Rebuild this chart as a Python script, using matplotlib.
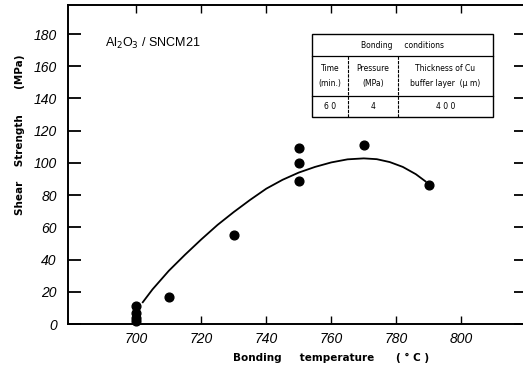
import matplotlib
matplotlib.use("Agg")
import matplotlib.pyplot as plt
from matplotlib.patches import Rectangle
from matplotlib.lines import Line2D

# Measured data points
temp_pts = [700, 700, 700, 700, 710, 730, 750, 750, 750, 770, 790]
shear_pts = [11, 7, 4, 2, 17, 55, 109, 100, 89, 111, 86]

# Fitted curve
curve_t = [702, 705, 710, 715, 720, 725, 730, 735, 740, 745, 750, 755, 760, 765,
           770, 774, 778, 782, 786, 789]
curve_s = [13.5, 21.5, 33, 43, 52.5, 61.5, 69.5, 77, 84, 89.5, 94, 97.5, 100.3, 102.2,
           102.8, 102.3, 100.5, 97.5, 93, 88.5]

xticks = [700, 720, 740, 760, 780, 800]
yticks = [0, 20, 40, 60, 80, 100, 120, 140, 160, 180]

W, H = 523, 369
fig = plt.figure(figsize=(W / 100, H / 100), dpi=100)
ax = fig.add_axes([68 / W, 1 - 324 / H, (526 - 68) / W, (324 - 5) / H])
ax.set_xlim(679, 819.9)
ax.set_ylim(0, 198)

ax.plot(curve_t, curve_s, color="black", lw=1.3, solid_joinstyle="round")
ax.plot(temp_pts, shear_pts, "o", color="black", ms=6.3, clip_on=False)

for s in ax.spines.values():
    s.set_linewidth(1.4)

ax.set_xticks(xticks)
ax.set_yticks(yticks)
tickfont = dict(fontsize=10, style="italic", family="Liberation Sans")
ax.set_xticklabels([str(t) for t in xticks], **tickfont)
ax.set_yticklabels([str(t) for t in yticks], **tickfont)
ax.tick_params(axis="y", which="both", direction="in", length=9, width=1.3,
               right=True, pad=8)
ax.tick_params(axis="x", which="both", direction="in", length=6, width=1.0,
               top=True, pad=6)
ax.tick_params(axis="y", right=True, labelright=False)

ax.text(690.5, 174, r"Al$_2$O$_3$ / SNCM21", fontsize=9, va="center", ha="left",
        family="Liberation Sans")

fig.text(331 / W, 1 - 358 / H, "Bonding     temperature      ( ° C )",
         fontsize=7.5, fontweight="bold", ha="center", va="center")
fig.text(20 / W, 1 - 135 / H, "Shear    Strength       (MPa)",
         fontsize=7.5, fontweight="bold", ha="center", va="center", rotation=90)

# Bonding conditions table
def fx(px):
    return px / W

def fy(py):
    return 1 - py / H

x0, x1, x2, x3 = 312, 348, 398, 493
y0, y1, y2, y3 = 34, 56, 96, 117
fig.patches.append(Rectangle((fx(x0), fy(y3)), fx(x3) - fx(x0), fy(y0) - fy(y3),
                             transform=fig.transFigure, fill=False, lw=1.0,
                             edgecolor="black"))
for yy in (y1, y2):
    fig.lines.append(Line2D([fx(x0), fx(x3)], [fy(yy), fy(yy)],
                            transform=fig.transFigure, color="black", lw=0.9))
for xx in (x1, x2):
    fig.lines.append(Line2D([fx(xx), fx(xx)], [fy(y1), fy(y3)],
                            transform=fig.transFigure, color="black", lw=0.8,
                            ls=(0, (3, 1))))

tf = dict(fontsize=5.5, ha="center", va="center", family="DejaVu Sans")
fig.text(fx((x0 + x3) / 2), fy((y0 + y1) / 2), "Bonding     conditions", **tf)
fig.text(fx((x0 + x1) / 2), fy((y1 + y2) / 2), "Time\n(min.)", linespacing=1.8, **tf)
fig.text(fx((x1 + x2) / 2), fy((y1 + y2) / 2), "Pressure\n(MPa)", linespacing=1.8, **tf)
fig.text(fx((x2 + x3) / 2), fy((y1 + y2) / 2), "Thickness of Cu\nbuffer layer  (μ m)",
         linespacing=1.8, **tf)
fig.text(fx((x0 + x1) / 2), fy((y2 + y3) / 2), "6 0", **tf)
fig.text(fx((x1 + x2) / 2), fy((y2 + y3) / 2), "4", **tf)
fig.text(fx((x2 + x3) / 2), fy((y2 + y3) / 2), "4 0 0", **tf)

fig.savefig("out.png", dpi=100)
